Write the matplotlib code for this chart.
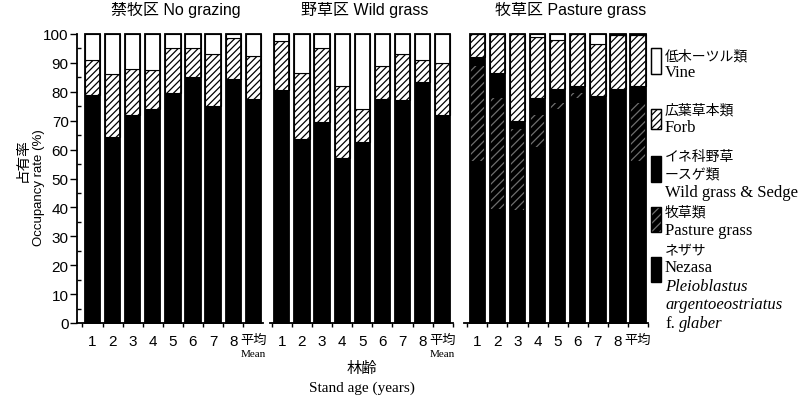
import numpy as np
import matplotlib.pyplot as plt
from matplotlib.ticker import MultipleLocator, FixedLocator

plt.rcParams['hatch.linewidth'] = 0.9
SANS = ['Liberation Sans', 'Noto Sans CJK JP']
SERIF = ['Liberation Serif', 'Noto Sans CJK JP']
CJK = ['Noto Sans CJK JP', 'Liberation Sans']

ages = ['1', '2', '3', '4', '5', '6', '7', '8', '平均']
panel_titles = ['禁牧区 No grazing', '野草区 Wild grass', '牧草区 Pasture grass']

# occupancy rate (%) of each plant group, one row per plot type
nezasa = [
    [0, 0, 0, 0, 0, 0, 0, 0, 0],
    [0, 0, 0, 0, 0, 0, 0, 0, 0],
    [56, 39.5, 39, 61, 74, 78, 77, 80, 56],
]
pasture = [
    [0, 0, 0, 0, 0, 0, 0, 0, 0],
    [0, 0, 0, 0, 0, 0, 0, 0, 0],
    [33, 38.5, 28, 11, 2, 1.5, 0, 0, 20],
]
wild = [
    [79, 64.5, 72, 74, 79.5, 85, 75, 84.5, 77.5],
    [80.5, 63.5, 69.5, 57, 62.5, 77.5, 77, 83.5, 72],
    [3, 8.5, 3, 6, 5, 2.5, 1.5, 1, 6],
]
forb = [
    [12, 21.5, 16, 13.5, 15.5, 10, 18, 14, 15],
    [17, 23, 25.5, 25, 11.5, 11.5, 16, 7.5, 18],
    [8, 13.5, 30, 21, 17, 18, 18, 18.5, 17.5],
]
vine = [
    [9, 14, 12, 12.5, 5, 5, 7, 1.5, 7.5],
    [2.5, 13.5, 5, 18, 26, 11, 7, 9, 10],
    [0, 0, 0, 1, 2, 0, 3.5, 0.5, 0.5],
]

PASTURE_HATCH = '#6e6e6e'
# (facecolor, hatch colour, hatch) per group, bottom to top
styles = [
    ('black', 'black', None),
    ('black', PASTURE_HATCH, '////'),
    ('black', 'black', None),
    ('white', 'black', '/////'),
    ('white', 'black', None),
]

W, H = 807, 406
fig = plt.figure(figsize=(W / 100, H / 100), dpi=100)

# axes placement in pixels: left edge, x limits, title centre
panels = [(77, (-0.77, 8.48), 176), (270, (-0.59, 8.5), 365),
          (464, (-0.66, 8.5), 571)]
step = 20.1
y0, y1 = 324, 35

x = np.arange(len(ages))
bw = 0.76
for k, (left, xlim, tx) in enumerate(panels):
    width = (xlim[1] - xlim[0]) * step
    ax = fig.add_axes([left / W, (H - y0) / H, width / W, (y0 - y1) / H])
    groups = [nezasa[k], pasture[k], wild[k], forb[k], vine[k]]
    bottom = np.zeros(len(ages))
    for vals, (fc, hc, hatch) in zip(groups, styles):
        vals = np.asarray(vals, dtype=float)
        ax.bar(x, vals, bw, bottom=bottom, color=fc, edgecolor=hc,
               hatch=hatch, linewidth=0.8 if fc == 'white' else 0,
               clip_on=False, zorder=2)
        bottom += vals
    ax.bar(x, bottom, bw, fill=False, edgecolor='black', linewidth=1.3,
           clip_on=False, zorder=3)

    ax.set_xlim(*xlim)
    ax.set_ylim(0, 100)
    for s in ['top', 'right']:
        ax.spines[s].set_visible(False)
    ax.spines['bottom'].set_linewidth(1.3)
    ax.set_xticks(x)
    ax.set_xticklabels(ages)
    for lab in ax.get_xticklabels():
        lab.set_fontfamily(SANS)
        lab.set_fontsize(9.5 if lab.get_text() == '平均' else 11)
    ax.xaxis.set_minor_locator(FixedLocator(np.arange(-0.5, 9, 1.0)))
    ax.tick_params(axis='x', which='major', length=0, pad=8)
    ax.tick_params(axis='x', which='minor', direction='out', length=3, width=1)

    if k == 0:
        ax.spines['left'].set_linewidth(1.3)
        ax.yaxis.set_major_locator(MultipleLocator(10))
        ax.yaxis.set_minor_locator(MultipleLocator(5))
        ax.tick_params(axis='y', which='major', direction='out', length=5,
                       width=1, labelsize=11, pad=1)
        ax.tick_params(axis='y', which='minor', direction='in', length=3, width=1)
        for lab in ax.get_yticklabels():
            lab.set_fontfamily(SANS)
    else:
        ax.spines['left'].set_visible(False)
        ax.set_yticks([])

    fig.text(tx / W, (H - 10) / H, panel_titles[k], family=SANS,
             fontsize=11.5, ha='center', va='center')

    if k < 2:
        fig.text((left + (8 - xlim[0]) * step) / W, (H - 355) / H, 'Mean',
                 family=SERIF, fontsize=8, ha='center', va='center')

# axis titles
fig.text(23 / W, (H - 160) / H, '占有率', family=CJK, fontsize=10.5,
         rotation=90, ha='center', va='center')
fig.text(39 / W, (H - 188) / H, 'Occupancy rate (%)', family=SANS,
         fontsize=9.5, rotation=90, ha='center', va='center')
fig.text(362 / W, (H - 369) / H, '林齢', family=CJK, fontsize=11,
         ha='center', va='center')
fig.text(362 / W, (H - 388) / H, 'Stand age (years)', family=SERIF,
         fontsize=11, ha='center', va='center')

# legend
leg_patches = [
    (49, 75, 'white', 'black', None),
    (110, 130, 'white', 'black', '/////'),
    (157, 183, 'black', 'black', None),
    (208, 233, 'black', PASTURE_HATCH, '////'),
    (258, 283, 'black', 'black', None),
]
for top, bot, fc, hc, hatch in leg_patches:
    r = plt.Rectangle((651 / W, (H - bot) / H), 10 / W, (bot - top) / H,
                      transform=fig.transFigure, facecolor=fc, edgecolor=hc,
                      hatch=hatch, linewidth=0.8 if fc == 'white' else 0)
    fig.add_artist(r)
    fig.add_artist(plt.Rectangle((651 / W, (H - bot) / H), 10 / W,
                                 (bot - top) / H, transform=fig.transFigure,
                                 fill=False, edgecolor='black', linewidth=1.0))

leg_lines = [
    (57, '低木ーツル類', CJK, 'normal'),
    (73, 'Vine', SERIF, 'normal'),
    (111, '広葉草本類', CJK, 'normal'),
    (128, 'Forb', SERIF, 'normal'),
    (157, 'イネ科野草', CJK, 'normal'),
    (175, 'ースゲ類', CJK, 'normal'),
    (193, 'Wild grass & Sedge', SERIF, 'normal'),
    (213, '牧草類', CJK, 'normal'),
    (231, 'Pasture grass', SERIF, 'normal'),
    (250, 'ネザサ', CJK, 'normal'),
    (268, 'Nezasa', SERIF, 'normal'),
    (287, 'Pleioblastus', SERIF, 'italic'),
    (305, 'argentoeostriatus', SERIF, 'italic'),
]
for yy, txt, fam, style in leg_lines:
    size = 10 if fam is CJK else 12
    fig.text(665 / W, (H - yy) / H, txt, family=fam, style=style,
             fontsize=size, ha='left', va='center')
fig.text(665 / W, (H - 324) / H, 'f.', family=SERIF, fontsize=12,
         ha='left', va='center')
fig.text(679 / W, (H - 324) / H, 'glaber', family=SERIF, style='italic',
         fontsize=12, ha='left', va='center')

fig.savefig('out.png', dpi=100)
